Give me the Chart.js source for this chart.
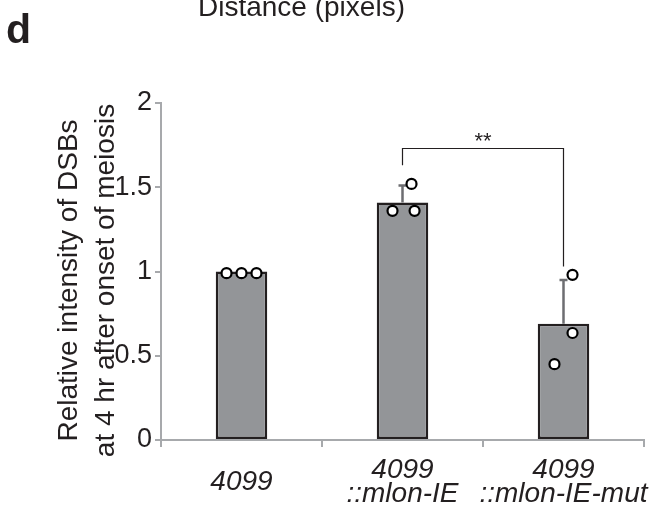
<!DOCTYPE html>
<html>
<head>
<meta charset="utf-8">
<script src="https://cdn.jsdelivr.net/npm/chart.js@4/dist/chart.umd.min.js"></script>
<style>
html, body { margin: 0; padding: 0; background: #fff; }
#wrap { width: 658px; height: 514px; position: relative; }
</style>
</head>
<body>
<div id="wrap"><canvas id="dsbChart"></canvas></div>
<script>
// values
const categories = [['4099'], ['4099', '::mlon-IE'], ['4099', '::mlon-IE-mut']];
const meanValues = [1.0, 1.41, 0.69];
const errorValues = [0, 0.10, 0.26];
const replicateValues = [[0.99, 0.99, 0.99], [1.36, 1.52, 1.36], [0.45, 0.98, 0.635]];
const replicateJitter = [[-0.093, 0, 0.093], [-0.062, 0.056, 0.075], [-0.056, 0.056, 0.056]];
const yTicks = [0, 0.5, 1, 1.5, 2];
const yTickLabels = ['0', '0.5', '1', '1.5', '2'];
const bracketPair = [1, 2];
const bracketValues = [1.63, 1.73, 1.03]; // left end, top, right end
const bracketLabel = '**';

const ink = '#231f20';
const axisGray = '#a7a9ac';
const fontFamily = '"Liberation Sans", Arial, sans-serif';

var points = [];
for (var i = 0; i < replicateValues.length; i++) {
    for (var j = 0; j < replicateValues[i].length; j++) {
        points.push({ x: i + replicateJitter[i][j], y: replicateValues[i][j] });
    }
}

const errorBars = {
    id: 'errorBars',
    afterDatasetDraw(chart, args) {
        if (args.index !== 0) return;
        var ctx = chart.ctx, x = chart.scales.x, y = chart.scales.y;
        ctx.save();
        ctx.strokeStyle = '#6d6e71';
        ctx.lineWidth = 2.5;
        for (var i = 0; i < meanValues.length; i++) {
            if (!errorValues[i]) continue;
            var px = x.getPixelForValue(i);
            var y0 = y.getPixelForValue(meanValues[i]);
            var y1 = y.getPixelForValue(meanValues[i] + errorValues[i]);
            ctx.beginPath();
            ctx.moveTo(px, y0);
            ctx.lineTo(px, y1);
            ctx.moveTo(px - 4, y1);
            ctx.lineTo(px + 4, y1);
            ctx.stroke();
        }
        ctx.restore();
    }
};

const annotations = {
    id: 'annotations',
    afterDraw(chart) {
        var ctx = chart.ctx, x = chart.scales.x, y = chart.scales.y;
        var area = chart.chartArea;
        ctx.save();
        // significance bracket
        var xl = x.getPixelForValue(bracketPair[0]);
        var xr = x.getPixelForValue(bracketPair[1]);
        var yTop = y.getPixelForValue(bracketValues[1]);
        ctx.strokeStyle = ink;
        ctx.lineWidth = 1.2;
        ctx.beginPath();
        ctx.moveTo(xl, y.getPixelForValue(bracketValues[0]));
        ctx.lineTo(xl, yTop);
        ctx.lineTo(xr, yTop);
        ctx.lineTo(xr, y.getPixelForValue(bracketValues[2]));
        ctx.stroke();
        ctx.fillStyle = ink;
        ctx.font = '22px ' + fontFamily;
        ctx.textAlign = 'center';
        ctx.textBaseline = 'alphabetic';
        ctx.fillText(bracketLabel, (xl + xr) / 2, yTop);

        // y axis title, two lines
        var cy = (area.top + area.bottom) / 2 + 9;
        ctx.font = '28px ' + fontFamily;
        ctx.translate(0, cy);
        ctx.rotate(-Math.PI / 2);
        ctx.fillText('Relative intensity of DSBs', 0, 77);
        ctx.fillText('at 4 hr after onset of meiosis', 0, 114);
        ctx.setTransform(1, 0, 0, 1, 0, 0);

        // panel letter and clipped caption from the panel above
        ctx.textAlign = 'left';
        ctx.font = 'bold 41px ' + fontFamily;
        ctx.fillText('d', 6, 43);
        ctx.font = '28px ' + fontFamily;
        ctx.fillText('Distance (pixels)', 198, 16);
        ctx.restore();
    }
};

new Chart(document.getElementById('dsbChart'), {
    type: 'bar',
    data: {
        labels: categories,
        datasets: [{
            type: 'bar',
            data: meanValues,
            backgroundColor: '#939598',
            borderColor: ink,
            borderWidth: 2.5,
            borderSkipped: false,
            grouped: false,
            barPercentage: 0.32,
            categoryPercentage: 1.0,
            order: 2
        }, {
            type: 'scatter',
            data: points,
            xAxisID: 'xPts',
            pointRadius: 5,
            pointBorderWidth: 2.2,
            pointBackgroundColor: '#ffffff',
            pointBorderColor: '#000000',
            order: 1
        }]
    },
    options: {
        responsive: true,
        maintainAspectRatio: false,
        animation: false,
        events: [],
        layout: { padding: { top: 103, right: 14, left: 0, bottom: 0 } },
        plugins: { legend: { display: false }, tooltip: { enabled: false } },
        scales: {
            x: {
                offset: true,
                border: { color: axisGray, width: 2 },
                grid: { offset: true, drawOnChartArea: false, color: axisGray, lineWidth: 2, tickLength: 7 },
                ticks: {
                    color: ink,
                    padding: 23,
                    crossAlign: 'center',
                    maxRotation: 0,
                    autoSkip: false,
                    font: { family: fontFamily, size: 28, style: 'italic', lineHeight: 0.86 }
                },
                afterFit: function(s) {
                    s.height = 74;
                    s.paddingLeft = 0;
                    s.paddingRight = 0;
                }
            },
            xPts: {
                type: 'linear',
                display: false,
                offset: false,
                grace: 0,
                min: -0.5,
                max: 2.5
            },
            y: {
                min: 0,
                max: 2,
                afterBuildTicks: function(s) { s.ticks = yTicks.map(v => ({ value: v })); },
                border: { color: axisGray, width: 2 },
                grid: { drawOnChartArea: false, color: axisGray, lineWidth: 2, tickLength: 6 },
                ticks: {
                    color: ink,
                    padding: 3,
                    font: { family: fontFamily, size: 27 },
                    callback: function(value, index) { return yTickLabels[index]; }
                },
                afterFit: function(s) { s.width = 161; }
            }
        }
    },
    plugins: [errorBars, annotations]
});
</script>
</body>
</html>
